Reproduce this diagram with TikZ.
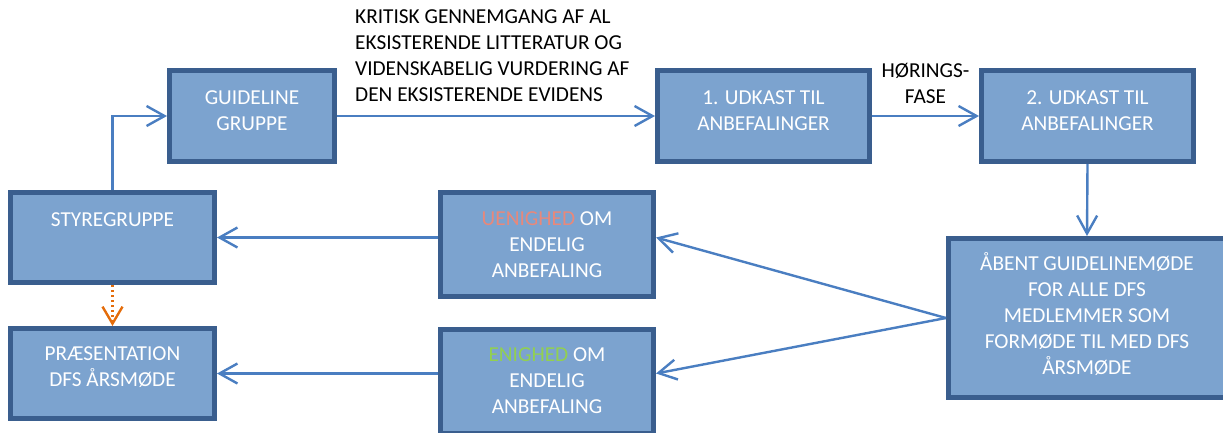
\documentclass[tikz,border=0pt]{standalone}
\usepackage{fontspec}
\setmainfont{Carlito}
\usetikzlibrary{arrows.meta}
\definecolor{boxfill}{RGB}{124,163,207}
\definecolor{boxborder}{RGB}{58,94,142}
\definecolor{linecol}{RGB}{74,126,193}
\definecolor{orangecol}{RGB}{228,108,10}
\definecolor{uenig}{RGB}{232,136,122}
\definecolor{enig}{RGB}{146,208,80}
\tikzset{
  box/.style={draw=boxborder, line width=5pt, fill=boxfill, inner sep=0pt},
  btxt/.style={text=white, font=\fontsize{21.3}{26}\selectfont, align=center, inner sep=0pt},
  otxt/.style={text=black, font=\fontsize{21.3}{26}\selectfont, inner sep=0pt},
  conn/.style={draw=linecol, line width=2.4pt, -{Straight Barb[length=18pt, width=20pt]}},
  dotconn/.style={draw=orangecol, line width=2.4pt, dash pattern=on 2.4pt off 2.6pt, -{Straight Barb[length=17pt, width=20pt]}}
}
\begin{document}
\begin{tikzpicture}[x=1pt, y=-1pt]
\useasboundingbox (0,0) rectangle (1223,432);
% boxes (outer size minus line width)
\node[box, minimum width=165pt, minimum height=91pt] (G)  at (252,116) {};
\node[box, minimum width=212pt, minimum height=91pt] (U1) at (763.5,116) {};
\node[box, minimum width=212pt, minimum height=91pt] (U2) at (1087.5,116) {};
\node[box, minimum width=204pt, minimum height=90pt] (S)  at (112.5,237.5) {};
\node[box, minimum width=204pt, minimum height=90pt] (P)  at (112.5,373.5) {};
\node[box, minimum width=213pt, minimum height=104pt] (UE) at (547,244.5) {};
\node[box, minimum width=213pt, minimum height=104pt] (E)  at (547,381.5) {};
\node[box, minimum width=277pt, minimum height=159pt] (A)  at (1087,318) {};
% box texts
\node[btxt] (Gt)  at (252,110.5) {GUIDELINE\\GRUPPE};
\node[btxt] (U1t) at (763.5,110.5) {1. UDKAST TIL\\ANBEFALINGER};
\node[btxt] (U2t) at (1087.5,110.5) {2. UDKAST TIL\\ANBEFALINGER};
\node[btxt] (St)  at (112.5,220) {STYREGRUPPE};
\node[btxt] (Pt)  at (112.5,367.5) {PRÆSENTATION\\DFS ÅRSMØDE};
\node[btxt] (UEt) at (547,244.5) {\textcolor{uenig}{UENIGHED} OM\\ENDELIG\\ANBEFALING};
\node[btxt] (Et)  at (547,381) {\textcolor{enig}{ENIGHED} OM\\ENDELIG\\ANBEFALING};
\node[btxt] (At)  at (1087,314) {ÅBENT GUIDELINEMØDE\\FOR ALLE DFS\\MEDLEMMER SOM\\FORMØDE TIL MED DFS\\ÅRSMØDE};
% free texts
\node[otxt, align=left, anchor=west] (K) at (355,56) {KRITISK GENNEMGANG AF AL\\EKSISTERENDE LITTERATUR OG\\VIDENSKABELIG VURDERING AF\\DEN EKSISTERENDE EVIDENS};
\node[otxt, align=center] (H) at (925.5,83.5) {HØRINGS-\\FASE};
% connectors
\draw[conn] (S.north) |- (G.west);
\draw[conn] (G.east) -- (U1.west);
\draw[conn] (U1.east) -- (U2.west);
\draw[conn] (U2.south) -- (A.north);
\draw[conn] (A.west) -- (UE.east |- S.east);
\draw[conn] (A.west) -- (E.east |- P.east);
\draw[conn] (UE.west |- S.east) -- (S.east);
\draw[conn] (E.west |- P.east) -- (P.east);
\draw[dotconn] (S.south) -- (P.north);
\end{tikzpicture}
\end{document}
